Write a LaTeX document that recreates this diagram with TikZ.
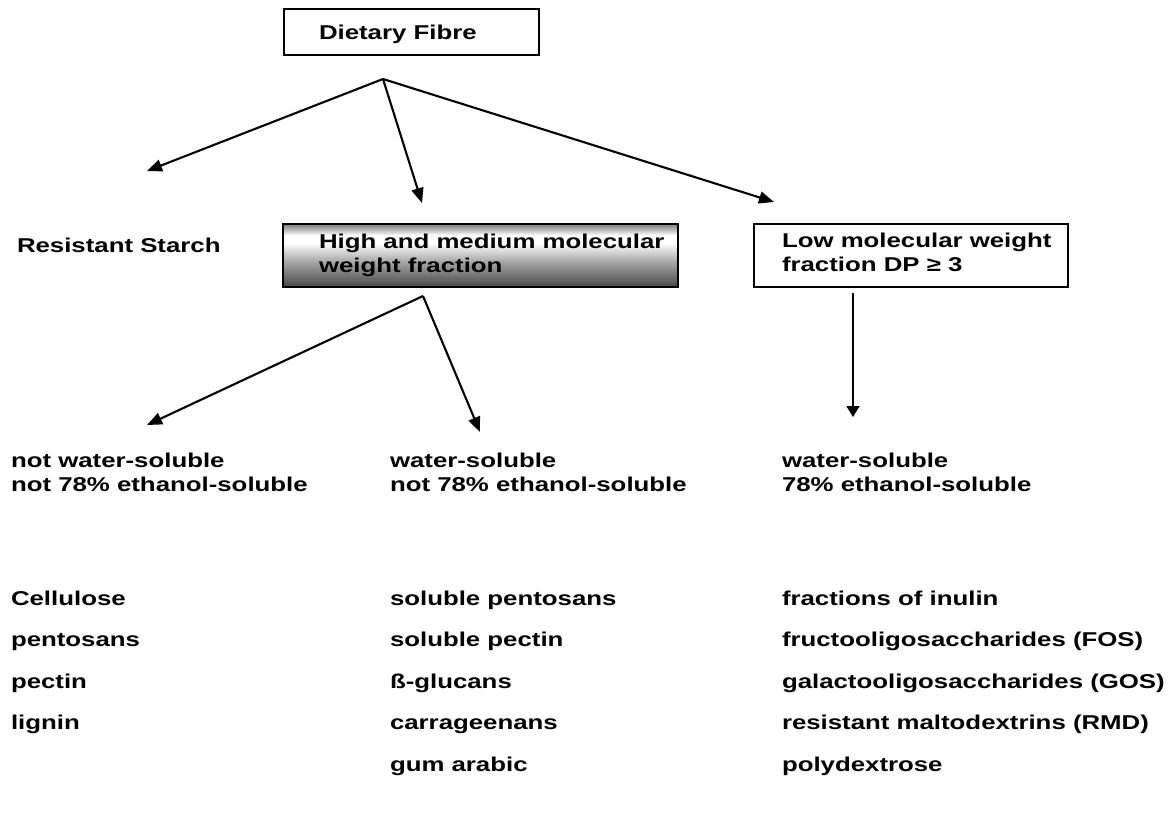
\documentclass[tikz,border=0pt]{standalone}
\usepackage{fontspec}
\setmainfont{Liberation Sans}[FakeStretch=1.29]
\usetikzlibrary{arrows.meta}
\pgfdeclareverticalshading{hmshade}{100bp}{color(0bp)=(black!72); color(25bp)=(black!72); color(45bp)=(black!35); color(60bp)=(white); color(66bp)=(white); color(71bp)=(black!30); color(75bp)=(black!50); color(100bp)=(black!50)}
\begin{document}
\begin{tikzpicture}[x=1pt,y=-1pt,
  every node/.style={font=\fontsize{20}{24}\selectfont\bfseries, inner sep=0pt, outer sep=0pt},
  lbl/.style={anchor=base west},
  boxed/.style={draw, line width=1.7pt, anchor=north west},
  conn/.style={line width=2.1pt, -{Triangle[length=15pt,width=12pt]}},
  vconn/.style={line width=1.6pt, -{Triangle[length=11pt,width=13pt]}}
]
\useasboundingbox (0,0) rectangle (1176,825);
\fill[white] (0,0) rectangle (1176,825);

% boxes
\node[boxed, minimum width=255pt, minimum height=46pt] (dfbox) at (284,9) {};
\node[boxed, shading=hmshade, line width=2pt, minimum width=395pt, minimum height=63pt] (hmbox) at (283,224) {};
\node[boxed, minimum width=314pt, minimum height=63pt] (lowbox) at (754,224) {};

% texts
\node[lbl] (df) at (319,39) {Dietary Fibre};
\node[lbl] (rs) at (17,252) {Resistant Starch};
\node[lbl] (hm) at (319,248) {\begin{tabular}[t]{@{}l@{}}High and medium molecular\\weight fraction\end{tabular}};
\node[lbl] (low) at (782,247) {\begin{tabular}[t]{@{}l@{}}Low molecular weight\\fraction DP ≥ 3\end{tabular}};

\node[lbl] (c1) at (11,467) {\begin{tabular}[t]{@{}l@{}}not water-soluble\\not 78\% ethanol-soluble\end{tabular}};
\node[lbl] (c2) at (390,467) {\begin{tabular}[t]{@{}l@{}}water-soluble\\not 78\% ethanol-soluble\end{tabular}};
\node[lbl] (c3) at (782,467) {\begin{tabular}[t]{@{}l@{}}water-soluble\\78\% ethanol-soluble\end{tabular}};

% lists
\node[lbl] (l1) at (11,605) {Cellulose};
\node[lbl] (l2) at (11,646) {pentosans};
\node[lbl] (l3) at (11,688) {pectin};
\node[lbl] (l4) at (11,729) {lignin};

\node[lbl] (m1) at (390,605) {soluble pentosans};
\node[lbl] (m2) at (390,646) {soluble pectin};
\node[lbl] (m3) at (390,688) {ß-glucans};
\node[lbl] (m4) at (390,729) {carrageenans};
\node[lbl] (m5) at (390,771) {gum arabic};

\node[lbl] (r1) at (782,605) {fractions of inulin};
\node[lbl] (r2) at (782,646) {fructooligosaccharides (FOS)};
\node[lbl] (r3) at (782,688) {galactooligosaccharides (GOS)};
\node[lbl] (r4) at (782,729) {resistant maltodextrins (RMD)};
\node[lbl] (r5) at (782,771) {polydextrose};

% connectors
\coordinate (a1) at (383,79);
\coordinate (t1) at (147,171);
\coordinate (t2) at (422,203);
\coordinate (t3) at (774,202);
\draw[conn] (a1) -- (t1);
\draw[conn] (a1) -- (t2);
\draw[conn] (a1) -- (t3);

\coordinate (a2) at (423,296);
\coordinate (t4) at (147,425);
\coordinate (t5) at (480,432);
\draw[conn] (a2) -- (t4);
\draw[conn] (a2) -- (t5);

\coordinate (a3) at (853,293);
\coordinate (t6) at (853,417);
\draw[vconn] (a3) -- (t6);
\end{tikzpicture}
\end{document}
